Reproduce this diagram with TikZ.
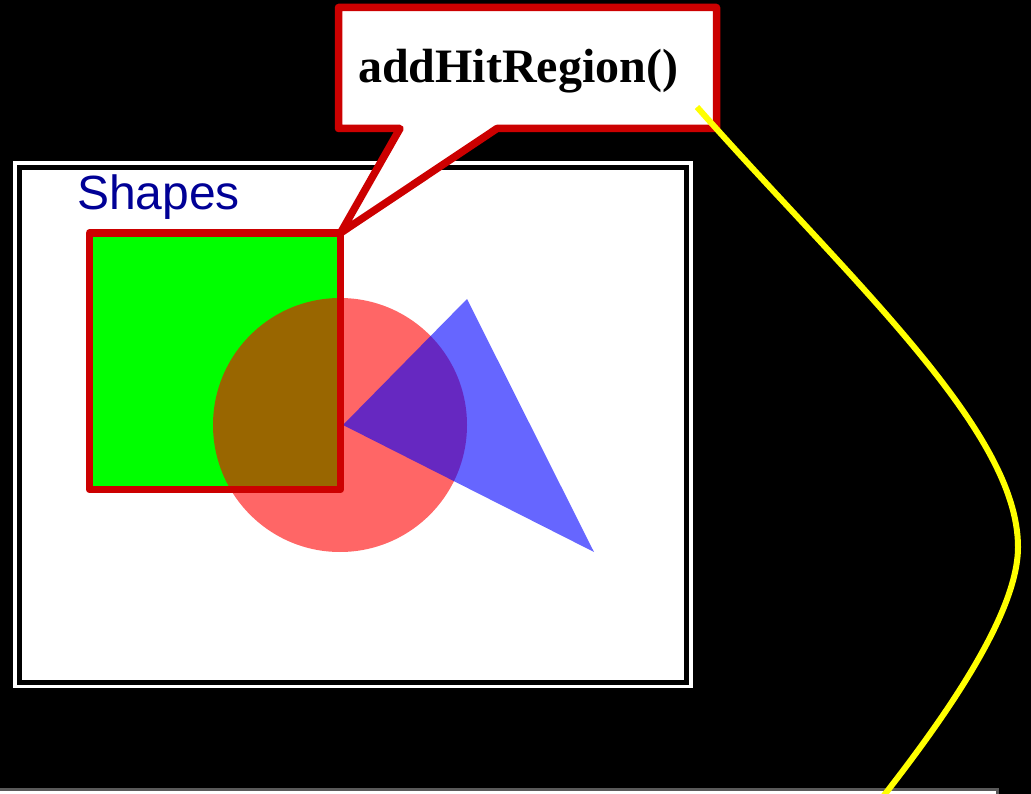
\documentclass[tikz,border=0pt]{standalone}
\usepackage{fontspec}
\setmainfont{Liberation Serif}
\newfontfamily\canvasfont{Liberation Sans}
\usetikzlibrary{positioning}
\definecolor{hitred}{HTML}{CC0000}
\definecolor{titleblue}{HTML}{000096}
\definecolor{wireyellow}{HTML}{FFFF00}
\newlength{\HitLine}
\newlength{\WireLine}
\setlength{\HitLine}{7.5pt}
\setlength{\WireLine}{6pt}
\tikzset{
  hit fill/.style={fill=green, inner sep=0pt, outer sep=0pt, minimum width=251pt, minimum height=256.5pt},
  hit border/.style={draw=hitred, line width=\HitLine, line join=round},
  disc/.style={circle, fill=red, fill opacity=0.6, minimum size=254pt, inner sep=0pt},
  wedge/.style={fill=blue, fill opacity=0.6},
  callout/.style={fill=white, draw=hitred, line width=\HitLine, line join=round},
  call text/.style={anchor=base west, inner sep=0pt, font=\fontsize{48}{48}\selectfont\bfseries},
  title text/.style={anchor=base west, inner sep=0pt, text=titleblue, font=\canvasfont\fontsize{48}{48}\selectfont},
  wire/.style={draw=wireyellow, line width=\WireLine},
}

\begin{document}
\begin{tikzpicture}[x=1pt, y=-1pt]
  \fill[black] (0,0) rectangle (1031,794);
  \useasboundingbox (0,0) rectangle (1031,794);
  \clip (0,0) rectangle (1031,794);

  % canvas
  \fill[white] (13,161) rectangle (693,688);
  \draw[black, line width=5pt] (19.5,167.5) rectangle (686.5,682);
  \node[title text] (title) at (77,210) {Shapes};
  \node[hit fill] (hit) at (215,361.25) {};
  \node[disc] (disc) at (340,425) {};
  \fill[wedge] (467,299) -- (594,552) -- (343,425) -- cycle;
  \draw[hit border] (hit.north west) rectangle (hit.south east);

  % callout
  \draw[callout] (338.5,7.5) -- (716.5,7.5) -- (716.5,128.5) -- (497,128.5)
    -- (hit.north east) -- (400,128.5) -- (338.5,128.5) -- cycle;
  \node[call text] (call) at (358,83) {addHitRegion()};

  \draw[draw=gray!70!black, fill=white, line width=3pt] (-5,789) rectangle (997,830);

  \coordinate (wire start) at (697,107);
  \coordinate (wire end) at (882,798);
  \draw[wire] (wire start) .. controls (850,280) and (1018,430) .. (1018,547)
    .. controls (1018,620) and (930,736) .. (wire end);
\end{tikzpicture}
\end{document}
